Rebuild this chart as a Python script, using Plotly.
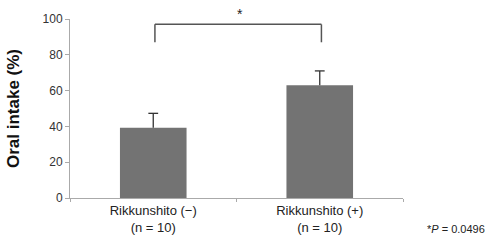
import plotly.graph_objects as go

categories = ["Rikkunshito (−)<br>(n = 10)", "Rikkunshito (+)<br>(n = 10)"]
values = [39.3, 63.0]
errors = [8.0, 8.0]
y_ticks = [0, 20, 40, 60, 80, 100]
bracket_top = 97
bracket_bottom = 87

fig = go.Figure()
fig.add_trace(go.Bar(
    x=categories, y=values,
    marker=dict(color="#737373", line=dict(width=0)),
    width=0.4,
))

# upper-only error bars: stem + cap
stem_x, stem_y = [], []
for c, v, e in zip(categories, values, errors):
    stem_x += [c, c, None]
    stem_y += [v, v + e, None]
fig.add_trace(go.Scatter(x=stem_x, y=stem_y, mode="lines",
                         line=dict(color="#333333", width=1.3), hoverinfo="skip"))
fig.add_trace(go.Scatter(x=categories, y=[v + e for v, e in zip(values, errors)], mode="markers",
                         marker=dict(symbol="line-ew", size=7, line=dict(color="#333333", width=1.3)),
                         hoverinfo="skip"))

# significance bracket
for (x0, x1, y0, y1) in [(0.01, 1.01, bracket_top, bracket_top),
                         (0.01, 0.01, bracket_bottom, bracket_top),
                         (1.01, 1.01, bracket_bottom, bracket_top)]:
    fig.add_shape(type="line", xref="x", yref="y", x0=x0, x1=x1, y0=y0, y1=y1,
                  line=dict(color="#555555", width=1.5))
fig.add_annotation(x=0.52, y=bracket_top, xref="x", yref="y", text="*", showarrow=False,
                   yanchor="bottom", yshift=0, font=dict(size=14, color="#222222"))
fig.add_annotation(x=1.252, y=0, xref="paper", yref="paper", text="*<i>P</i> = 0.0496",
                   showarrow=False, xanchor="right", yanchor="top", yshift=-23,
                   font=dict(size=11, color="#222222"))

fig.update_layout(
    width=490, height=248,
    margin=dict(l=70, r=87, t=12, b=50),
    paper_bgcolor="white", plot_bgcolor="white",
    showlegend=False,
    font=dict(family="Liberation Sans, Arial, sans-serif", color="#333333"),
    bargap=0.6,
)
fig.update_xaxes(
    type="category", showline=True, linecolor="#aaaaaa", linewidth=1,
    ticks="outside", tickson="boundaries", ticklen=3, tickcolor="#aaaaaa",
    tickfont=dict(size=13, color="#222222"), showgrid=False,
)
fig.update_yaxes(
    range=[0, 100], tickvals=y_ticks, showline=True, linecolor="#aaaaaa", linewidth=1,
    ticks="outside", ticklen=4, tickcolor="#aaaaaa", showgrid=False, zeroline=False,
    tickfont=dict(size=12, color="#333333"),
    title=dict(text="<b>Oral intake (%)</b>", font=dict(size=17, color="#111111"), standoff=18),
)

fig.write_html("out.html")
